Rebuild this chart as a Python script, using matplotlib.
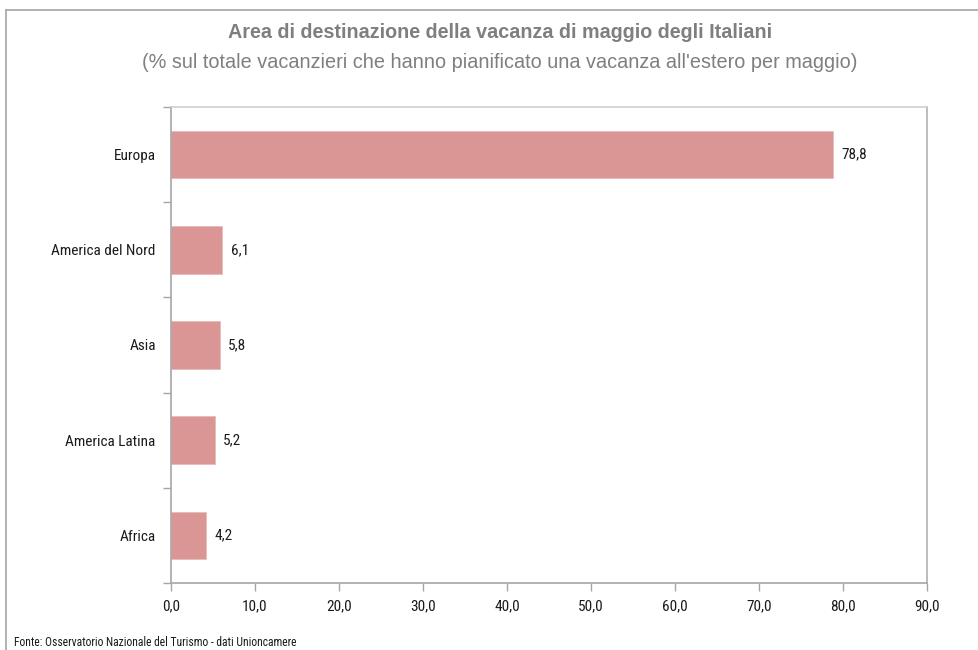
import matplotlib
matplotlib.use("Agg")
import matplotlib.pyplot as plt
from matplotlib.lines import Line2D
from matplotlib.ticker import FixedLocator
from matplotlib import font_manager

categories = ["Europa", "America del Nord", "Asia", "America Latina", "Africa"]
values = [78.8, 6.1, 5.8, 5.2, 4.2]
xticks = [0, 10, 20, 30, 40, 50, 60, 70, 80, 90]
xtick_labels = ["0,0", "10,0", "20,0", "30,0", "40,0", "50,0", "60,0", "70,0", "80,0", "90,0"]
title = "Area di destinazione della vacanza di maggio degli Italiani"
subtitle = "(% sul totale vacanzieri che hanno pianificato una vacanza all'estero per maggio)"
source = "Fonte: Osservatorio Nazionale del Turismo - dati Unioncamere"

# look for a condensed sans font (Arial Narrow look-alike)
narrow_path = None
cands = []
for f in font_manager.fontManager.ttflist:
    nm = f.name.lower()
    fn = f.fname.lower()
    is_narrow = ("narrow" in nm or "condensed" in nm or "narrow" in fn or "condensed" in fn
                 or str(f.stretch) in ("condensed", "semi-condensed", "extra-condensed"))
    if is_narrow and f.weight in (400, "normal", "regular") and f.style == "normal" \
            and "mono" not in nm and "serif" not in nm.replace("sans serif", ""):
        cands.append(f)
pref = ["liberation sans narrow", "roboto condensed", "open sans condensed", "noto sans",
        "dejavu sans", "lato", "inter"]
for p in pref:
    for f in cands:
        if f.name.lower().startswith(p):
            narrow_path = f.fname
            break
    if narrow_path:
        break
if narrow_path is None and cands:
    narrow_path = cands[0].fname

plt.rcParams['font.family'] = ["Liberation Sans", "DejaVu Sans"]
if narrow_path:
    nfp = dict(fontproperties=font_manager.FontProperties(fname=narrow_path, size=11))
    nfp_small = dict(fontproperties=font_manager.FontProperties(fname=narrow_path, size=8.4))
else:
    nfp = dict(fontsize=9.8)
    nfp_small = dict(fontsize=7.4)

W, H = 979, 650
fig = plt.figure(figsize=(W / 100, H / 100), dpi=100)
ax = fig.add_axes([171 / W, 1 - 583 / H, (927 - 171) / W, (583 - 107) / H])

n = len(categories)
ypos = list(range(n))
bar_color = "#d99694"
ax.barh(ypos, values, height=0.5, color=bar_color, edgecolor="#e6b8b7", linewidth=0.5, zorder=2)
ax.set_ylim(n - 0.5, -0.5)
ax.set_xlim(0, 90)

for y, v in zip(ypos, values):
    ax.text(v + 1.0, y, f"{v:.1f}".replace(".", ","), va="center", ha="left",
            color="#1a1a1a", **nfp)

ax.set_yticks(ypos)
ax.set_yticklabels(categories, color="#1a1a1a", **nfp)
ax.tick_params(axis="y", which="major", length=0, pad=11)
ax.yaxis.set_minor_locator(FixedLocator([i - 0.5 for i in range(n + 1)]))
ax.tick_params(axis="y", which="minor", length=6, direction="out", color="#a6a6a6", width=1)

ax.set_xticks(xticks)
ax.set_xticklabels(xtick_labels, color="#1a1a1a", **nfp)
ax.tick_params(axis="x", length=6, direction="out", color="#a6a6a6", width=1, pad=6)

ax.spines["left"].set_color("#a6a6a6")
ax.spines["bottom"].set_color("#a6a6a6")
ax.spines["right"].set_color("#b0b0b0")
ax.spines["top"].set_color("#d0d0d0")
for s in ax.spines.values():
    s.set_linewidth(1.2)

fig.text(500 / W, 1 - 32 / H, title, ha="center", va="center", fontsize=14.2,
         fontweight="bold", color="#7f7f7f")
fig.text(500 / W, 1 - 63 / H, subtitle, ha="center", va="center", fontsize=14.3,
         color="#7f7f7f")
fig.text(14 / W, 1 - 643 / H, source, ha="left", va="center", color="#1a1a1a", **nfp_small)

# outer chart border
fig.add_artist(Line2D([6 / W, 1], [1 - 10 / H, 1 - 10 / H], transform=fig.transFigure,
                      color="#a6a6a6", lw=1.2))
fig.add_artist(Line2D([6 / W, 6 / W], [0, 1 - 10 / H], transform=fig.transFigure,
                      color="#a6a6a6", lw=1.2))

fig.savefig("out.png", dpi=100)
